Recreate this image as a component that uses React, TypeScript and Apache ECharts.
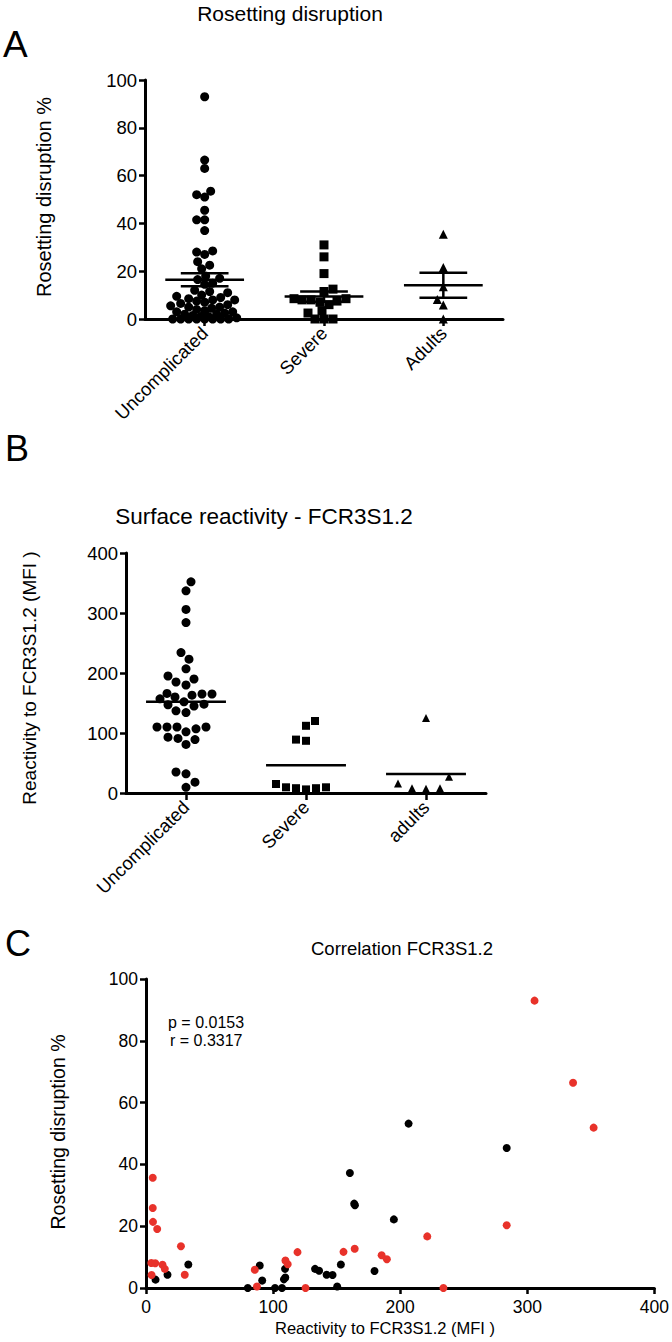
import React, { useEffect, useRef } from "react";
import * as echarts from "echarts";

// ---------- DATA ----------
const categoriesA = ["Uncomplicated", "Severe", "Adults"];
const categoriesB = ["Uncomplicated", "Severe", "adults"];

// Panel A: rosetting disruption %
const rosUncomplicated = [93, 66.5, 63, 53.5, 52, 51, 45.5, 41.5, 41.5, 37, 28.5, 28, 27, 24, 22.5, 21, 18, 17, 16.5, 15, 14.5, 12, 11.5, 11, 10, 9.5, 9, 8.5, 8, 8, 7.5, 7, 6.5, 6, 5.5, 5, 5, 4.5, 4, 3.5, 3, 3, 2.5, 2, 2, 1.5, 1, 1, 0.5, 0, 0, 0, 0, 0, 0, 0, 0];
const rosSevere = [31, 26, 19, 12.5, 11.5, 8.5, 8.5, 8, 8, 7.5, 7, 6, 3.5, 2.5, 0, 0, 0];
const rosAdults = [35.5, 21.5, 13.5, 8.2, 5.9, 0];

// Panel B: reactivity to FCR3S1.2 (MFI)
const mfiUncomplicated = [352, 337, 306, 284, 234, 223, 207, 195, 190, 185, 180, 166, 165, 165, 163, 160, 157, 152, 148, 147, 145, 137, 134, 110, 110, 110, 110, 107, 102, 93, 91, 89, 81, 35, 32, 18, 9.5];
const mfiSevere = [120, 112, 89, 87, 15, 9.5, 9.5, 8, 8, 6];
const mfiAdults = [125, 27, 16, 8, 7, 8];

// Panel C: [MFI, rosetting disruption %]
const corrBlack = [[206.6, 53.2], [283.8, 45.3], [160.4, 37.2], [163.8, 27.3], [164.4, 26.8], [195, 22.2], [7.5, 2.7], [16.9, 4.3], [33.3, 7.6], [80.1, 0], [89.5, 7.3], [91.4, 2.4], [101.5, 0], [107, 0], [108.5, 2.8], [109.6, 3.4], [109.4, 6.2], [133, 6.2], [136.2, 5.6], [142.1, 4.3], [146.8, 4.2], [150.4, 0.5], [153.3, 7.6], [179.8, 5.5]];
const corrRed = [[305.7, 93], [336, 66.4], [352.2, 51.9], [5.3, 35.7], [5.3, 25.9], [5.5, 21.4], [8.8, 19.1], [27.5, 13.5], [4.2, 8.1], [7.3, 8], [13, 7.5], [14.8, 6.2], [4.4, 4.2], [30.5, 4.3], [85.6, 5.9], [87.3, 0.5], [109.7, 8.9], [111.5, 7.7], [119.2, 11.6], [125.5, 0], [155.4, 11.7], [164.2, 12.7], [185.4, 10.6], [189.5, 9.3], [221.3, 16.7], [234, 0], [283.8, 20.3]];

const statsText = ["p = 0.0153", "r = 0.3317"];

// ---------- HELPERS ----------
const FONT = '"Liberation Sans", Arial, Helvetica, sans-serif';

function swarmOffsets(values: number[], pxPerUnit: number, diam: number, maxHalf: number): number[] {
  const order = values.map((_, i) => i).sort((a, b) => values[a] - values[b]);
  const placed: { x: number; y: number }[] = [];
  const out: number[] = new Array(values.length).fill(0);
  const cands: number[] = [0];
  for (let d = 1; d <= maxHalf; d++) {
    if (d % 2) cands.push(d, -d);
    else cands.push(-d, d);
  }
  for (const idx of order) {
    const y = values[idx] * pxPerUnit;
    let best = 0;
    let bestScore = -1;
    let chosen: number | null = null;
    for (const c of cands) {
      let minD = Infinity;
      for (const p of placed) {
        const dd = Math.hypot(c - p.x, y - p.y);
        if (dd < minD) minD = dd;
      }
      if (minD >= diam) {
        chosen = c;
        break;
      }
      if (minD > bestScore) {
        bestScore = minD;
        best = c;
      }
    }
    const x = chosen !== null ? chosen : best;
    placed.push({ x, y });
    out[idx] = x;
  }
  return out;
}

function mean(a: number[]) {
  return a.reduce((s, v) => s + v, 0) / a.length;
}
function sem(a: number[]) {
  const m = mean(a);
  const sd = Math.sqrt(a.reduce((s, v) => s + (v - m) * (v - m), 0) / (a.length - 1));
  return sd / Math.sqrt(a.length);
}

function swarmData(values: number[], cat: number, pxPerUnit: number, bandPx: number, diam: number, maxHalf: number) {
  const offs = swarmOffsets(values, pxPerUnit, diam, maxHalf);
  return values.map((v, i) => [cat + offs[i] / bandPx, v]);
}

// geometry of the three plot areas
const gA = { left: 145, top: 80, width: 358, height: 239 };
const gB = { left: 126, top: 553, width: 360, height: 240 };
const gC = { left: 146, top: 979, width: 509, height: 309 };

const axisLineStyle = { color: "#000", width: 3 };
const tickStyle = { color: "#000", width: 2.5 };

function catAxis(gridIndex: number, data: string[]) {
  return {
    type: "category",
    gridIndex,
    data,
    boundaryGap: true,
    position: "bottom",
    axisLine: { show: true, onZero: false, lineStyle: axisLineStyle },
    axisTick: { show: true, alignWithLabel: true, length: 7, lineStyle: tickStyle },
    axisLabel: { interval: 0, rotate: 45, margin: 11, fontSize: 18.5, color: "#000", fontFamily: FONT },
    splitLine: { show: false },
  };
}
function hiddenX(gridIndex: number) {
  return { type: "value", gridIndex, min: -0.5, max: 2.5, show: false, position: "top" };
}
function valAxisY(gridIndex: number, max: number, interval: number, fontSize: number) {
  return {
    type: "value",
    gridIndex,
    min: 0,
    max,
    interval,
    axisLine: { show: true, onZero: false, lineStyle: axisLineStyle },
    axisTick: { show: true, length: 6, lineStyle: tickStyle },
    axisLabel: { margin: 8, fontSize, color: "#000", fontFamily: FONT },
    splitLine: { show: false },
  };
}

function meanRenderer(meanHalf: number, semHalf: number, withSem: boolean) {
  return (params: any, api: any) => {
    const i = api.value(0);
    const m = api.value(1);
    const lo = api.value(2);
    const hi = api.value(3);
    const style = { stroke: "#000", lineWidth: 2.5 };
    const a = api.coord([i - meanHalf, m]);
    const b = api.coord([i + meanHalf, m]);
    const children: any[] = [
      { type: "line", shape: { x1: a[0], y1: a[1], x2: b[0], y2: b[1] }, style },
    ];
    if (withSem) {
      const h1 = api.coord([i - semHalf, hi]);
      const h2 = api.coord([i + semHalf, hi]);
      const l1 = api.coord([i - semHalf, lo]);
      const l2 = api.coord([i + semHalf, lo]);
      const c1 = api.coord([i, hi]);
      const c2 = api.coord([i, lo]);
      children.push(
        { type: "line", shape: { x1: h1[0], y1: h1[1], x2: h2[0], y2: h2[1] }, style },
        { type: "line", shape: { x1: l1[0], y1: l1[1], x2: l2[0], y2: l2[1] }, style },
        { type: "line", shape: { x1: c1[0], y1: c1[1], x2: c2[0], y2: c2[1] }, style }
      );
    }
    return { type: "group", children };
  };
}

function txt(text: string, x: number, y: number, fontSize: number, opts: any = {}) {
  return {
    type: "text",
    x,
    y,
    rotation: opts.rotation || 0,
    style: {
      text,
      fontSize,
      fontFamily: FONT,
      fill: "#000",
      textAlign: opts.align || "center",
      textVerticalAlign: "middle",
    },
  };
}

const dot = (color: string) => ({ color, opacity: 1 });

export default function App() {
  const ref = useRef<HTMLDivElement>(null);

  useEffect(() => {
    document.body.style.margin = "0";
    if (!ref.current) return;
    const chart = echarts.init(ref.current, undefined, { renderer: "svg" });

    const aPx = gA.height / 100;
    const aBand = gA.width / 3;
    const bPx = gB.height / 400;
    const bBand = gB.width / 3;

    const groupsA = [rosUncomplicated, rosSevere, rosAdults];
    const groupsB = [mfiUncomplicated, mfiSevere, mfiAdults];

    const option: any = {
      animation: false,
      backgroundColor: "#fff",
      grid: [
        { ...gA, containLabel: false },
        { ...gB, containLabel: false },
        { ...gC, containLabel: false },
      ],
      xAxis: [
        catAxis(0, categoriesA),
        hiddenX(0),
        catAxis(1, categoriesB),
        hiddenX(1),
        {
          type: "value",
          gridIndex: 2,
          min: 0,
          max: 400,
          interval: 100,
          axisLine: { show: true, onZero: false, lineStyle: axisLineStyle },
          axisTick: { show: true, length: 6, lineStyle: tickStyle },
          axisLabel: { margin: 10, fontSize: 17.5, color: "#000", fontFamily: FONT },
          splitLine: { show: false },
        },
      ],
      yAxis: [valAxisY(0, 100, 20, 18.5), valAxisY(1, 400, 100, 18.5), valAxisY(2, 100, 20, 17.5)],
      series: [
        {
          type: "scatter",
          xAxisIndex: 1,
          yAxisIndex: 0,
          symbol: "circle",
          symbolSize: 9,
          itemStyle: dot("#000"),
          data: swarmData(rosUncomplicated, 0, aPx, aBand, 8, 34),
        },
        {
          type: "scatter",
          xAxisIndex: 1,
          yAxisIndex: 0,
          symbol: "rect",
          symbolSize: 9,
          itemStyle: dot("#000"),
          data: swarmData(rosSevere, 1, aPx, aBand, 8.5, 30),
        },
        {
          type: "scatter",
          xAxisIndex: 1,
          yAxisIndex: 0,
          symbol: "triangle",
          symbolSize: 9,
          itemStyle: dot("#000"),
          data: swarmData(rosAdults, 2, aPx, aBand, 8, 20),
        },
        {
          type: "custom",
          xAxisIndex: 1,
          yAxisIndex: 0,
          renderItem: meanRenderer(0.33, 0.2, true),
          encode: { x: 0, y: 1 },
          clip: false,
          z: 5,
          data: groupsA.map((g, i) => [i, mean(g), mean(g) - sem(g), mean(g) + sem(g)]),
        },
        {
          type: "scatter",
          xAxisIndex: 3,
          yAxisIndex: 1,
          symbol: "circle",
          symbolSize: 9,
          itemStyle: dot("#000"),
          data: swarmData(mfiUncomplicated, 0, bPx, bBand, 10, 30),
        },
        {
          type: "scatter",
          xAxisIndex: 3,
          yAxisIndex: 1,
          symbol: "rect",
          symbolSize: 8,
          itemStyle: dot("#000"),
          data: swarmData(mfiSevere, 1, bPx, bBand, 10, 30),
        },
        {
          type: "scatter",
          xAxisIndex: 3,
          yAxisIndex: 1,
          symbol: "triangle",
          symbolSize: 8,
          itemStyle: dot("#000"),
          data: swarmData(mfiAdults, 2, bPx, bBand, 14, 32),
        },
        {
          type: "custom",
          xAxisIndex: 3,
          yAxisIndex: 1,
          renderItem: meanRenderer(0.333, 0, false),
          encode: { x: 0, y: 1 },
          clip: false,
          z: 5,
          data: groupsB.map((g, i) => [i, mean(g), mean(g), mean(g)]),
        },
        {
          type: "scatter",
          xAxisIndex: 4,
          yAxisIndex: 2,
          symbol: "circle",
          symbolSize: 8,
          itemStyle: dot("#000"),
          data: corrBlack,
        },
        {
          type: "scatter",
          xAxisIndex: 4,
          yAxisIndex: 2,
          symbol: "circle",
          symbolSize: 8,
          itemStyle: dot("#e8322a"),
          data: corrRed,
        },
      ],
      graphic: [
        txt("Rosetting disruption", 290, 13, 21),
        txt("A", 3, 44, 37, { align: "left" }),
        txt("Rosetting disruption %", 44, 197, 20, { rotation: Math.PI / 2 }),
        txt("B", 5, 448, 36, { align: "left" }),
        txt("Surface reactivity - FCR3S1.2", 264, 516, 22.5),
        txt("Reactivity to FCR3S1.2 (MFI )", 29, 678, 19, { rotation: Math.PI / 2 }),
        txt("C", 5, 943, 36, { align: "left" }),
        txt("Correlation FCR3S1.2", 402, 948, 18.5),
        txt("Rosetting disruption %", 58, 1132, 19.5, { rotation: Math.PI / 2 }),
        txt("Reactivity to FCR3S1.2 (MFI )", 385, 1328, 16.5),
        txt(statsText[0], 168, 1022, 16, { align: "left" }),
        txt(statsText[1], 170, 1040, 16, { align: "left" }),
      ],
    };

    chart.setOption(option);
    return () => chart.dispose();
  }, []);

  return <div ref={ref} style={{ width: 672, height: 1342 }} />;
}
